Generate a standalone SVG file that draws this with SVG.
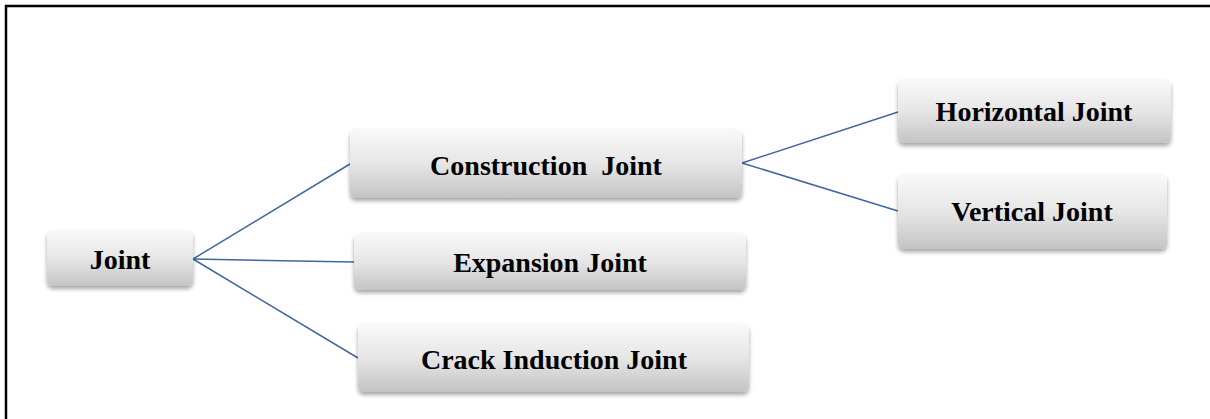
<svg xmlns="http://www.w3.org/2000/svg" width="1210" height="419" viewBox="0 0 1210 419">
<defs>
<linearGradient id="g" x1="0" y1="0" x2="0" y2="1">
<stop offset="0" stop-color="#f9f9f9"/>
<stop offset="0.5" stop-color="#e6e6e6"/>
<stop offset="1" stop-color="#c4c4c4"/>
</linearGradient>
<filter id="sh" x="-10%" y="-20%" width="120%" height="150%">
<feGaussianBlur in="SourceAlpha" stdDeviation="2"/>
<feOffset dx="0" dy="3" result="b"/>
<feComponentTransfer><feFuncA type="linear" slope="0.35"/></feComponentTransfer>
<feMerge><feMergeNode/><feMergeNode in="SourceGraphic"/></feMerge>
</filter>
</defs>
<style>
.box{fill:url(#g);filter:url(#sh);}
.t{font-family:"Liberation Serif","Times New Roman",serif;font-weight:bold;font-size:28px;fill:#000;text-anchor:middle;}
.c{stroke:#41679f;stroke-width:1.5;fill:none;}
</style>
<rect x="6" y="6" width="1212" height="420" fill="#fff" stroke="#000" stroke-width="2.5"/>
<g id="connectors">
<line class="c" x1="193" y1="259" x2="350" y2="164"/>
<line class="c" x1="193" y1="259" x2="354" y2="262"/>
<line class="c" x1="193" y1="259" x2="358" y2="358"/>
<line class="c" x1="742" y1="163" x2="898" y2="112"/>
<line class="c" x1="742" y1="163" x2="898" y2="211"/>
</g>
<g id="joint">
<rect class="box" x="47" y="230" width="146" height="56" rx="6"/>
<text class="t" x="120" y="269">Joint</text>
</g>
<g id="construction">
<rect class="box" x="350" y="129" width="392" height="69" rx="6"/>
<text class="t" x="546" y="175" xml:space="preserve">Construction  Joint</text>
</g>
<g id="expansion">
<rect class="box" x="354" y="233" width="392" height="57" rx="6"/>
<text class="t" x="550" y="272">Expansion Joint</text>
</g>
<g id="crack">
<rect class="box" x="358" y="323" width="391" height="69" rx="6"/>
<text class="t" x="554" y="369">Crack Induction Joint</text>
</g>
<g id="horizontal">
<rect class="box" x="898" y="79" width="273" height="64" rx="6"/>
<text class="t" x="1034" y="121">Horizontal Joint</text>
</g>
<g id="vertical">
<rect class="box" x="898" y="174" width="269" height="75" rx="6"/>
<text class="t" x="1032" y="221">Vertical Joint</text>
</g>
</svg>
